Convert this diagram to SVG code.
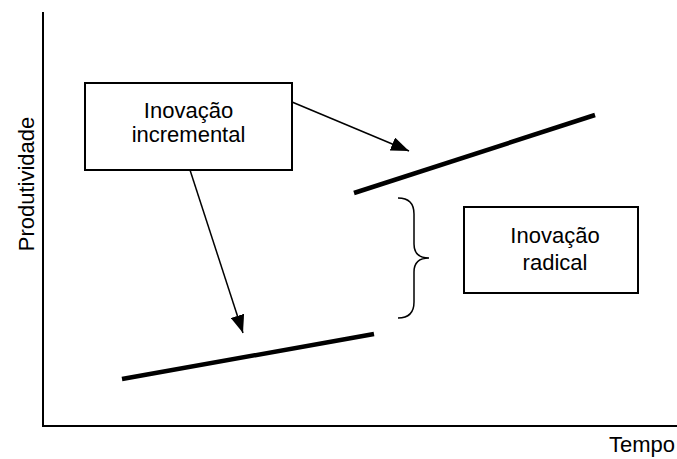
<svg xmlns="http://www.w3.org/2000/svg" width="677" height="459" viewBox="0 0 677 459">
<style>
text { font-family: "Liberation Sans", Arial, sans-serif; font-size: 22px; fill: #000; }
.box { fill: #fff; stroke: #000; stroke-width: 2; }
.axis { stroke: #000; stroke-width: 2; fill: none; }
.trend { stroke: #000; stroke-width: 4.5; fill: none; }
.conn { stroke: #000; stroke-width: 1.5; fill: none; }
</style>
<defs>
<marker id="arrow" markerWidth="18" markerHeight="14" refX="18" refY="7" orient="auto" markerUnits="userSpaceOnUse" viewBox="0 0 18 14">
<path d="M0,0 L18,7 L0,14 Z" fill="#000"/>
</marker>
</defs>
<g id="axes">
<line class="axis" x1="43" y1="12" x2="43" y2="427"/>
<line class="axis" x1="42" y1="426" x2="677" y2="426"/>
<text transform="translate(34,184) rotate(-90)" text-anchor="middle">Produtividade</text>
<text x="609" y="452">Tempo</text>
</g>
<g id="trend-lines">
<line class="trend" x1="122" y1="379" x2="374" y2="334"/>
<line class="trend" x1="354" y1="193" x2="595" y2="115"/>
</g>
<g id="brace">
<path class="conn" d="M398,198 Q414,198 414,214 L414,244 Q414,258 429,258 Q414,258 414,272 L414,302 Q414,318 398,318"/>
</g>
<g id="node-incremental">
<rect class="box" x="85" y="83" width="207" height="87"/>
<text x="188.5" y="118" text-anchor="middle">Inovação</text>
<text x="188.5" y="142" text-anchor="middle">incremental</text>
</g>
<g id="node-radical">
<rect class="box" x="464" y="207" width="174" height="86"/>
<text x="555" y="243" text-anchor="middle">Inovação</text>
<text x="555" y="270" text-anchor="middle">radical</text>
</g>
<g id="connectors">
<line class="conn" x1="292" y1="102" x2="409" y2="151" marker-end="url(#arrow)"/>
<line class="conn" x1="190" y1="170" x2="243" y2="333" marker-end="url(#arrow)"/>
</g>
</svg>
